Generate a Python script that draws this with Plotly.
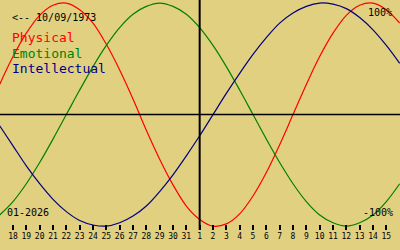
import plotly.graph_objects as go

# Day labels (18 Dec 2025 .. 15 Jan 2026), tick indices 0..28
day_labels = ["18", "19", "20", "21", "22", "23", "24", "25", "26", "27", "28", "29", "30", "31",
              "1", "2", "3", "4", "5", "6", "7", "8", "9", "10", "11", "12", "13", "14", "15"]
# sample positions: 17 Dec (-1) .. 16 Jan (29)
day_index = list(range(-1, 30))

physical = [0.27, 0.52, 0.73, 0.89, 0.98, 1.00, 0.94, 0.82, 0.63, 0.40, 0.14, -0.14, -0.40,
            -0.63, -0.82, -0.94, -1.00, -0.98, -0.89, -0.73, -0.52, -0.27, 0.00, 0.27, 0.52,
            0.73, 0.89, 0.98, 1.00, 0.94, 0.82]
emotional = [-0.90, -0.78, -0.62, -0.43, -0.22, 0.00, 0.22, 0.43, 0.62, 0.78, 0.90, 0.97, 1.00,
             0.97, 0.90, 0.78, 0.62, 0.43, 0.22, 0.00, -0.22, -0.43, -0.62, -0.78, -0.90, -0.97,
             -1.00, -0.97, -0.90, -0.78, -0.62]
intellectual = [-0.10, -0.28, -0.46, -0.62, -0.76, -0.87, -0.95, -0.99, -1.00, -0.97, -0.91,
                -0.82, -0.69, -0.54, -0.37, -0.19, 0.00, 0.19, 0.37, 0.54, 0.69, 0.82, 0.91,
                0.97, 1.00, 0.99, 0.95, 0.87, 0.76, 0.62, 0.46]

series = [("Physical", physical, "#ff0000"),
          ("Emotional", emotional, "#008000"),
          ("Intellectual", intellectual, "#000080")]

BG = "#e0d080"
FONT = "DejaVu Sans Mono"
H_PLOT = 230.0

fig = go.Figure()
for name, vals, col in series:
    fig.add_trace(go.Scatter(x=day_index, y=vals, mode="lines", name=name,
                             line=dict(color=col, width=1.2, shape="spline", smoothing=1),
                             hoverinfo="skip"))

def py(ypx):
    return (H_PLOT - ypx) / H_PLOT

# vertical "today" line at 1 Jan (index 14) and zero line
fig.add_shape(type="line", xref="x", yref="paper", x0=14, x1=14, y0=0, y1=1,
              line=dict(color="black", width=2))
fig.add_shape(type="line", xref="paper", yref="y", x0=0, x1=1, y0=0, y1=0,
              line=dict(color="black", width=1.5))

anns = [
    ("<-- 10/09/1973", 10, 17, 10, "black", "left"),
    ("Physical", 10, 37.7, 13, "#ff0000", "left"),
    ("Emotional", 10, 53.3, 13, "#008000", "left"),
    ("Intellectual", 10, 68.5, 13, "#000080", "left"),
    ("01-2026", 5, 212, 10, "black", "left"),
    ("100%", 394, 12, 10, "black", "right"),
    ("-100%", 395, 212, 10, "black", "right"),
]
for txt, xpx, ypx, fs, col, anc in anns:
    fig.add_annotation(text=txt, xref="paper", yref="paper", x=xpx / 400.0, y=py(ypx),
                       xanchor=anc, yanchor="middle", showarrow=False,
                       font=dict(family=FONT, size=fs, color=col))

fig.update_layout(
    width=400, height=250,
    margin=dict(l=0, r=0, t=0, b=20),
    paper_bgcolor=BG, plot_bgcolor=BG,
    showlegend=False,
    xaxis=dict(range=[-0.975, 29.025], tickmode="array",
               tickvals=list(range(len(day_labels))), ticktext=day_labels,
               ticks="inside", ticklen=5, tickwidth=1.5, tickcolor="black",
               showgrid=False, zeroline=False, showline=False,
               tickfont=dict(family=FONT, size=8, color="black"), fixedrange=True),
    yaxis=dict(range=[-1.035, 1.0274], showticklabels=False, showgrid=False,
               zeroline=False, showline=False, ticks="", fixedrange=True),
)

fig.write_html("out.html")
